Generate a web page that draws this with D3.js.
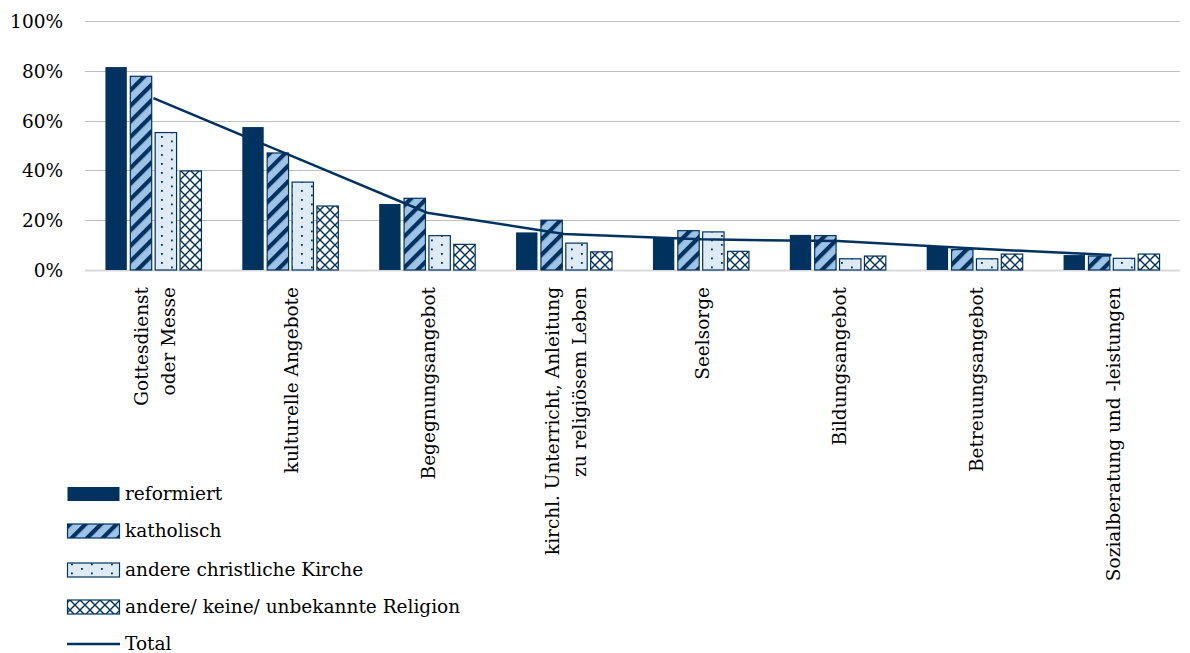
<!DOCTYPE html>
<html>
<head>
<meta charset="utf-8">
<script src="https://cdn.jsdelivr.net/npm/d3@7"></script>
<style>
  html, body { margin: 0; padding: 0; background: #fff; }
  svg text { font-family: "DejaVu Serif", serif; fill: #000; }
</style>
</head>
<body>
<svg id="chart" width="1190" height="653"></svg>
<script>
const categories = [
  ["Gottesdienst", "oder Messe"],
  ["kulturelle Angebote"],
  ["Begegnungsangebot"],
  ["kirchl. Unterricht, Anleitung", "zu religiösem Leben"],
  ["Seelsorge"],
  ["Bildungsangebot"],
  ["Betreuungsangebot"],
  ["Sozialberatung und -leistungen"]
];
const seriesNames = ["reformiert", "katholisch", "andere christliche Kirche", "andere/ keine/ unbekannte Religion"];
const reformiert = [0.815, 0.574, 0.265, 0.151, 0.131, 0.141, 0.095, 0.060];
const katholisch = [0.778, 0.470, 0.288, 0.200, 0.158, 0.138, 0.082, 0.056];
const andereChristlich = [0.552, 0.353, 0.138, 0.108, 0.153, 0.045, 0.045, 0.047];
const andereKeine = [0.398, 0.257, 0.103, 0.073, 0.075, 0.056, 0.064, 0.064];
const total = [0.69, 0.46, 0.23, 0.145, 0.123, 0.116, 0.086, 0.060];
const totalName = "Total";
const yTicks = [0, 0.2, 0.4, 0.6, 0.8, 1.0];

const navy = "#00325f";
const fontSize = 18.5;
const svg = d3.select("#chart");
const defs = svg.append("defs");

// Patterns
const pStripe = defs.append("pattern").attr("id", "pStripe").attr("patternUnits", "userSpaceOnUse")
  .attr("width", 11).attr("height", 11).attr("patternTransform", "rotate(45)");
pStripe.append("rect").attr("width", 11).attr("height", 11).attr("fill", "#9dc3e6");
pStripe.append("rect").attr("width", 4.2).attr("height", 11).attr("fill", navy);

const pDots = defs.append("pattern").attr("id", "pDots").attr("patternUnits", "userSpaceOnUse")
  .attr("width", 20).attr("height", 9);
pDots.append("rect").attr("width", 20).attr("height", 9).attr("fill", "#deebf7");
pDots.append("rect").attr("x", 1).attr("y", 1).attr("width", 1.8).attr("height", 1.8).attr("fill", navy);
pDots.append("rect").attr("x", 11).attr("y", 5.5).attr("width", 1.8).attr("height", 1.8).attr("fill", navy);

const pCross = defs.append("pattern").attr("id", "pCross").attr("patternUnits", "userSpaceOnUse")
  .attr("width", 10).attr("height", 10);
pCross.append("rect").attr("width", 10).attr("height", 10).attr("fill", "#ffffff");
pCross.append("path").attr("d", "M0,0 L10,10 M10,0 L0,10").attr("stroke", navy).attr("stroke-width", 1.4);

const fills = [navy, "url(#pStripe)", "url(#pDots)", "url(#pCross)"];
const seriesData = [reformiert, katholisch, andereChristlich, andereKeine];

const plotLeft = 85, plotRight = 1180, plotTop = 21, plotBottom = 270;
const x = d3.scaleBand().domain(d3.range(categories.length)).range([plotLeft, plotRight]).padding(0);
const y = d3.scaleLinear().domain([0, 1]).range([plotBottom, plotTop]);
const xs = d3.scaleBand().domain(d3.range(4)).range([-48, 48]).paddingInner(0.14);

// gridlines
svg.append("g").selectAll("line").data(yTicks).join("line")
  .attr("x1", plotLeft).attr("x2", plotRight)
  .attr("y1", d => Math.round(y(d)) + 0.5).attr("y2", d => Math.round(y(d)) + 0.5)
  .attr("stroke", d => d === 0 ? "#d9d9d9" : "#bfbfbf")
  .attr("stroke-width", d => d === 0 ? 2 : 1);

// y axis labels
const yAxis = d3.axisLeft(y).tickValues(yTicks).tickFormat(d3.format(".0%")).tickSize(0).tickPadding(0);
const yg = svg.append("g").attr("transform", `translate(63,0)`).call(yAxis);
yg.select(".domain").remove();
yg.selectAll("text").attr("font-size", fontSize).attr("dy", "0.35em")
  .style("font-family", '"DejaVu Serif", serif');

// bars
seriesData.forEach((vals, si) => {
  svg.append("g").selectAll("rect").data(vals).join("rect")
    .attr("x", (d, i) => x(i) + x.bandwidth() / 2 + xs(si))
    .attr("y", d => y(d))
    .attr("width", xs.bandwidth())
    .attr("height", d => plotBottom - y(d))
    .attr("fill", fills[si])
    .attr("stroke", navy)
    .attr("stroke-width", si === 0 ? 0 : 1.2);
});

// total line
const line = d3.line().x((d, i) => x(i) + x.bandwidth() / 2).y(d => y(d));
svg.append("path").datum(total).attr("d", line)
  .attr("fill", "none").attr("stroke", navy).attr("stroke-width", 2.5);

// category labels (rotated)
const lh = 27;
categories.forEach((lines, i) => {
  const cx = x(i) + x.bandwidth() / 2;
  const n = lines.length;
  lines.forEach((t, j) => {
    const off = (j - (n - 1) / 2) * lh;
    svg.append("text")
      .attr("transform", `translate(${cx + off + 8},287) rotate(-90)`)
      .attr("text-anchor", "end")
      .attr("font-size", fontSize)
      .text(t);
  });
});

// legend
const legendY = [494, 531, 570, 607];
seriesNames.forEach((name, i) => {
  svg.append("rect").attr("x", 67.5).attr("y", legendY[i] - 7).attr("width", 52).attr("height", 14)
    .attr("fill", fills[i]).attr("stroke", navy).attr("stroke-width", i === 0 ? 0 : 1.2);
  svg.append("text").attr("x", 125).attr("y", legendY[i] + 6).attr("font-size", fontSize).text(name);
});
svg.append("line").attr("x1", 67).attr("x2", 120).attr("y1", 644).attr("y2", 644)
  .attr("stroke", navy).attr("stroke-width", 2.5);
svg.append("text").attr("x", 125).attr("y", 650).attr("font-size", fontSize).text(totalName);
</script>
</body>
</html>
